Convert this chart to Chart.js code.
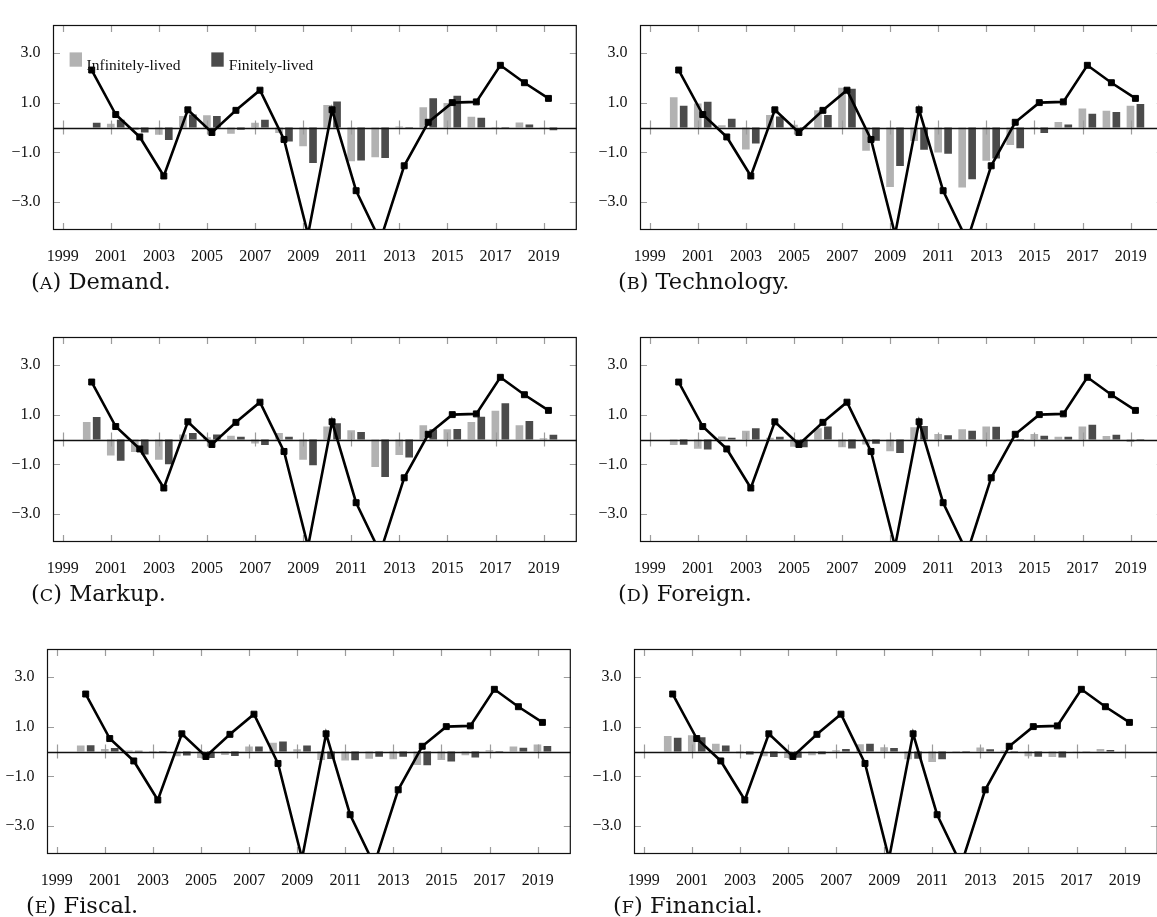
<!DOCTYPE html>
<html><head><meta charset="utf-8">
<script src="https://cdn.jsdelivr.net/npm/chart.js@4.4.1/dist/chart.umd.min.js"></script>
<style>
html,body{margin:0;padding:0;background:#fff;overflow:hidden;width:1157px;height:917px;position:relative;}
.panel{position:absolute;}
.panel canvas{display:block;}
.cap{position:absolute;font-family:'DejaVu Serif',serif;font-size:22.5px;line-height:22.5px;color:#111;white-space:nowrap;}
.cap .sc{font-size:0.78em;}
</style></head><body>
<script>
// ---- data ----
const years = [2000,2001,2002,2003,2004,2005,2006,2007,2008,2009,2010,2011,2012,2013,2014,2015,2016,2017,2018,2019];
const xTickYears = [1999,2001,2003,2005,2007,2009,2011,2013,2015,2017,2019];
const xTickLabels = ['1999','2001','2003','2005','2007','2009','2011','2013','2015','2017','2019'];
const yTickValues = [3,1,-1,-3];
const yTickLabels = ['3.0','1.0','\u22121.0','\u22123.0'];
const seriesLabels = ['Infinitely-lived','Finitely-lived'];

const outputLine = [2.31,0.52,-0.38,-1.95,0.71,-0.20,0.69,1.50,-0.48,-4.30,0.71,-2.54,-4.55,-1.54,0.21,1.00,1.03,2.50,1.80,1.17];

const demandInf = [0.00,0.15,-0.10,-0.29,0.46,0.49,-0.25,0.19,-0.22,-0.75,0.90,-1.36,-1.20,0.04,0.81,0.98,0.43,0.02,0.20,0.01];
const demandFin = [0.19,0.31,-0.20,-0.50,0.52,0.46,-0.09,0.31,-0.56,-1.43,1.05,-1.33,-1.23,-0.03,1.18,1.28,0.39,-0.04,0.12,-0.11];

const technologyInf = [1.22,0.96,0.09,-0.88,0.50,0.11,0.69,1.60,-0.93,-2.39,-0.54,-1.00,-2.41,-1.34,-0.70,-0.05,0.22,0.76,0.67,0.87];
const technologyFin = [0.87,1.04,0.35,-0.64,0.44,-0.02,0.50,1.56,-0.53,-1.55,-0.89,-1.06,-2.08,-1.25,-0.83,-0.22,0.12,0.55,0.62,0.94];

const markupInf = [0.70,-0.64,-0.50,-0.81,0.20,0.09,0.15,-0.16,0.26,-0.81,0.52,0.37,-1.11,-0.62,0.57,0.41,0.70,1.16,0.57,0.05];
const markupFin = [0.90,-0.85,-0.60,-0.99,0.26,0.20,0.11,-0.22,0.11,-1.04,0.65,0.30,-1.51,-0.72,0.41,0.42,0.91,1.46,0.74,0.19];

const foreignInf = [-0.22,-0.37,0.12,0.35,0.07,-0.29,0.45,-0.31,-0.20,-0.47,0.49,0.22,0.41,0.52,0.02,0.22,0.11,0.52,0.14,-0.10];
const foreignFin = [-0.21,-0.40,0.07,0.45,0.11,-0.31,0.52,-0.36,-0.17,-0.54,0.54,0.17,0.35,0.51,-0.02,0.15,0.11,0.59,0.19,-0.06];

const fiscalInf = [0.24,0.10,0.04,-0.06,-0.19,-0.26,-0.14,0.20,0.35,0.09,-0.34,-0.36,-0.29,-0.31,-0.54,-0.34,-0.15,0.05,0.20,0.28];
const fiscalFin = [0.25,0.14,0.03,0.02,-0.16,-0.26,-0.18,0.20,0.40,0.24,-0.30,-0.35,-0.21,-0.21,-0.55,-0.40,-0.24,-0.03,0.15,0.22];

const financialInf = [0.62,0.65,0.31,-0.07,-0.19,-0.26,-0.15,0.05,0.29,0.17,-0.31,-0.42,-0.05,0.16,0.04,-0.19,-0.22,0.01,0.10,0.01];
const financialFin = [0.55,0.57,0.24,-0.12,-0.22,-0.25,-0.11,0.10,0.31,0.14,-0.29,-0.31,-0.04,0.09,-0.05,-0.21,-0.24,0.01,0.06,0.00];

// ---- layout / style ----
const PLOT_W = 527, PLOT_H = 217, YAXIS_W = 52, XAXIS_H = 40, PAD = 2;
const X_MIN = 1998.59, X_MAX = 2020.38, Y_MIN = -4.12, Y_MAX = 4.12;
const GROUP_SHIFT = 0.2;
const LIGHT = '#b2b2b2', DARK = '#4b4b4b';
const TICK_FONT = {family:"'Liberation Serif', serif", size:16};

const panels = [
  {letter:'A', title:'Demand.',    inf:demandInf,    fin:demandFin,    left:53,  top:13,  capX:31,  legend:true},
  {letter:'B', title:'Technology.',inf:technologyInf,fin:technologyFin,left:640, top:13,  capX:618, legend:false},
  {letter:'C', title:'Markup.',    inf:markupInf,    fin:markupFin,    left:53,  top:325, capX:31,  legend:false},
  {letter:'D', title:'Foreign.',   inf:foreignInf,   fin:foreignFin,   left:640, top:325, capX:618, legend:false},
  {letter:'E', title:'Fiscal.',    inf:fiscalInf,    fin:fiscalFin,    left:47,  top:637, capX:26,  legend:false},
  {letter:'F', title:'Financial.', inf:financialInf, fin:financialFin, left:634, top:637, capX:613, legend:false}
];

const framePlugin = {
  id:'frame',
  beforeDatasetDraw(chart, args){
    if (args.meta.type !== 'line') return;
    const {ctx, chartArea:a, scales:{x, y}} = chart;
    const y0 = y.getPixelForValue(0);
    ctx.save();
    ctx.strokeStyle = '#9c9c9c'; ctx.lineWidth = 1.2;
    ctx.beginPath();
    x.ticks.forEach(t => {
      const px = Math.round(x.getPixelForValue(t.value)) + 0.5;
      ctx.moveTo(px, a.top); ctx.lineTo(px, a.top + 7);
      ctx.moveTo(px, a.bottom - 7); ctx.lineTo(px, a.bottom);
      ctx.moveTo(px, y0 - 7); ctx.lineTo(px, y0 + 7);
    });
    y.ticks.forEach(t => {
      const py = Math.round(y.getPixelForValue(t.value)) + 0.5;
      ctx.moveTo(a.left, py); ctx.lineTo(a.left + 7, py);
      ctx.moveTo(a.right - 7, py); ctx.lineTo(a.right, py);
    });
    ctx.stroke();
    ctx.strokeStyle = '#111'; ctx.lineWidth = 1.4;
    ctx.beginPath();
    ctx.moveTo(a.left, Math.round(y0) + 0.5); ctx.lineTo(a.right, Math.round(y0) + 0.5);
    ctx.stroke();
    ctx.restore();
  },
  afterDatasetsDraw(chart){
    const {ctx, chartArea:a} = chart;
    ctx.save();
    ctx.strokeStyle = '#111'; ctx.lineWidth = 1.2;
    ctx.strokeRect(a.left + 0.5, a.top + 0.5, a.right - a.left - 1, a.bottom - a.top - 1);
    ctx.restore();
  }
};

const legendPlugin = {
  id:'insideLegend',
  afterDraw(chart, args, opts){
    if (!opts.show) return;
    const {ctx, chartArea:a} = chart;
    const ds = chart.data.datasets;
    const items = [{dx:16.6, tx:33.6, d:ds[0]}, {dx:158.3, tx:175.8, d:ds[1]}];
    ctx.save();
    ctx.font = "15.5px 'Liberation Serif', serif";
    ctx.textBaseline = 'alphabetic';
    items.forEach(it => {
      ctx.fillStyle = it.d.backgroundColor;
      ctx.fillRect(a.left + it.dx, a.top + 27.4, 12.4, 14.3);
      ctx.fillStyle = '#111';
      ctx.fillText(it.d.label, a.left + it.tx, a.top + 45);
    });
    ctx.restore();
  }
};

panels.forEach(p => {
  const div = document.createElement('div');
  div.className = 'panel';
  const W = YAXIS_W + PLOT_W + PAD, H = PAD + PLOT_H + XAXIS_H;
  div.style.left = (p.left - YAXIS_W) + 'px';
  div.style.top = (p.top - PAD) + 'px';
  div.style.width = W + 'px'; div.style.height = H + 'px';
  const cv = document.createElement('canvas');
  cv.width = W; cv.height = H;
  cv.style.width = W + 'px'; cv.style.height = H + 'px';
  div.appendChild(cv);
  document.body.appendChild(div);

  const cap = document.createElement('div');
  cap.className = 'cap';
  cap.style.left = p.capX + 'px';
  cap.style.top = (p.top + 257) + 'px';
  cap.innerHTML = '(<span class="sc">' + p.letter + '</span>) ' + p.title;
  document.body.appendChild(cap);

  new Chart(cv, {
    type:'bar',
    data:{
      datasets:[
        {type:'bar', label:seriesLabels[0], data:years.map((yr,i)=>({x:yr+GROUP_SHIFT, y:p.inf[i]})),
         backgroundColor:LIGHT, borderWidth:0, order:1, categoryPercentage:0.827, barPercentage:0.77},
        {type:'bar', label:seriesLabels[1], data:years.map((yr,i)=>({x:yr+GROUP_SHIFT, y:p.fin[i]})),
         backgroundColor:DARK, borderWidth:0, order:1, categoryPercentage:0.827, barPercentage:0.77},
        {type:'line', label:'Output', data:years.map((yr,i)=>({x:yr+GROUP_SHIFT, y:outputLine[i]})),
         borderColor:'#000', backgroundColor:'#000', borderWidth:2.6, tension:0, order:0,
         pointStyle:'rect', pointRadius:4.2, pointBorderWidth:1, pointBackgroundColor:'#000', pointBorderColor:'#000',
         borderJoinStyle:'miter', fill:false}
      ]
    },
    options:{
      responsive:false, animation:false, devicePixelRatio:1,
      layout:{padding:{top:PAD, right:PAD, left:0, bottom:0}},
      plugins:{legend:{display:false}, tooltip:{enabled:false}, insideLegend:{show:p.legend}},
      scales:{
        x:{type:'linear', min:X_MIN, max:X_MAX, offset:false,
           afterBuildTicks:s => { s.ticks = xTickYears.map(v => ({value:v})); },
           afterFit:s => { s.height = XAXIS_H; },
           grid:{display:false}, border:{display:false},
           ticks:{callback:(v,i)=>xTickLabels[i], autoSkip:false, maxRotation:0, padding:9, color:'#111', font:TICK_FONT}},
        y:{type:'linear', min:Y_MIN, max:Y_MAX,
           afterBuildTicks:s => { s.ticks = yTickValues.map(v => ({value:v})); },
           afterFit:s => { s.width = YAXIS_W; },
           grid:{display:false}, border:{display:false},
           ticks:{callback:(v,i)=>yTickLabels[i], padding:4.4, color:'#111', font:TICK_FONT}}
      }
    },
    plugins:[framePlugin, legendPlugin]
  });
});
</script>
</body></html>
